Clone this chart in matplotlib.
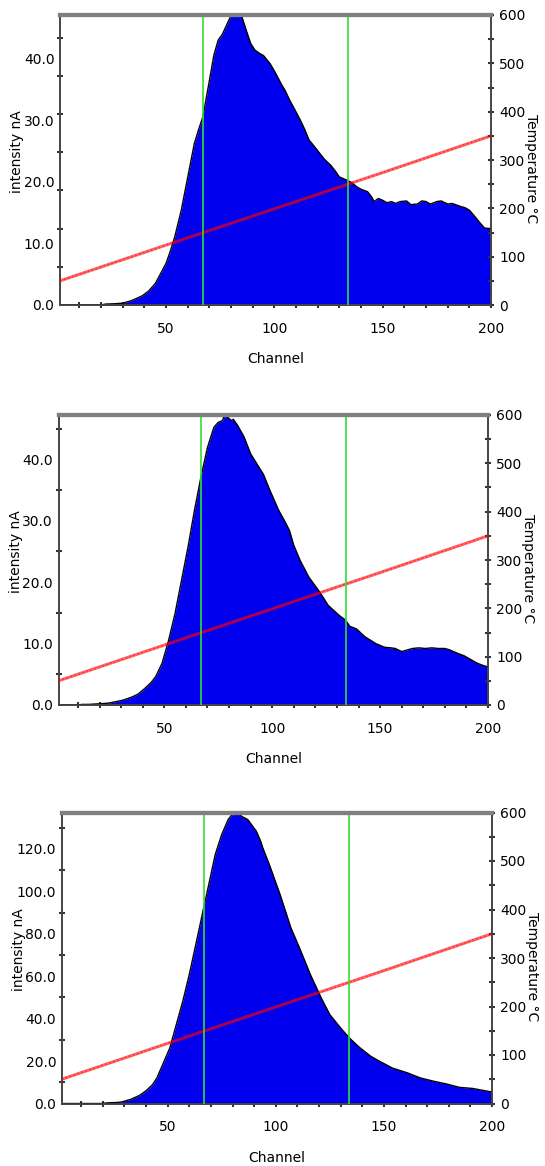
import matplotlib
matplotlib.use("Agg")
import matplotlib.pyplot as plt
from matplotlib.ticker import FixedLocator, FormatStrFormatter
import numpy as np

# values
ch1 = [1, 20, 22, 26, 30, 34, 39, 42, 45, 47, 50, 52, 54, 57, 60, 63, 65, 67, 70, 72,
       74, 76, 79, 80, 82, 84, 85, 87, 89, 91, 93, 95, 98, 100, 103, 105, 107, 109, 112,
       114, 116, 119, 121, 123, 126, 128, 130, 134, 136, 138, 140, 143, 145, 146, 148,
       150, 152, 154, 156, 158, 161, 163, 166, 168, 170, 172, 175, 177, 180, 182, 186,
       188, 190, 192, 195, 197, 200]
int1 = [0, 0, 0.15, 0.2, 0.3, 0.7, 1.5, 2.3, 3.5, 4.8, 6.8, 8.8, 11.1, 15.4, 20.8, 26.2,
        28.5, 30.6, 36.5, 40.5, 43.0, 44.0, 46.3, 47.0, 47.3, 47.0, 46.8, 44.6, 42.5, 41.4,
        40.9, 40.5, 39.2, 38.0, 36.0, 34.8, 33.3, 32.0, 30.0, 28.5, 26.8, 25.5, 24.6, 23.7,
        22.7, 21.8, 20.8, 20.2, 19.8, 19.2, 18.8, 18.4, 17.5, 16.8, 17.3, 17.0, 16.6, 16.8,
        16.5, 16.8, 16.9, 16.3, 16.4, 16.9, 16.8, 16.4, 16.8, 16.9, 16.4, 16.5, 16.0, 15.8,
        15.4, 14.6, 13.3, 12.5, 12.4]

ch2 = [1, 10, 12, 15, 20, 24, 27, 31, 35, 38, 41, 44, 46, 49, 52, 55, 58, 61, 64, 67, 70,
       73, 75, 77, 78, 79, 81, 82, 84, 87, 90, 93, 96, 99, 103, 106, 108, 110, 113, 117,
       122, 126, 131, 134, 136, 139, 143, 148, 152, 155, 157, 160, 163, 165, 168, 171,
       174, 177, 180, 182, 186, 189, 191, 195, 198, 200]
int2 = [0, 0, 0.1, 0.1, 0.2, 0.3, 0.5, 0.8, 1.3, 1.8, 2.7, 3.7, 4.6, 6.8, 10.5, 14.9, 20.3,
        25.7, 31.7, 37.1, 41.9, 45.2, 46.0, 46.3, 47.3, 47.0, 46.3, 46.5, 45.5, 43.6, 40.9,
        39.2, 37.5, 34.9, 31.7, 29.8, 28.4, 26.0, 23.5, 20.8, 18.4, 16.2, 14.6, 13.8, 12.8,
        12.4, 11.1, 10.0, 9.4, 9.3, 9.2, 8.7, 9.0, 9.2, 9.3, 9.2, 9.3, 9.2, 9.2, 9.0, 8.4,
        8.0, 7.6, 6.8, 6.4, 6.2]

ch3 = [1, 20, 22, 27, 29, 33, 37, 40, 43, 45, 47, 51, 54, 57, 60, 63, 66, 69, 72, 75, 78,
       80, 81, 83, 84, 87, 91, 93, 94, 97, 102, 107, 111, 116, 121, 125, 130, 134, 139,
       144, 148, 154, 161, 167, 173, 179, 185, 191, 199, 200]
int3 = [0, 0, 0.3, 0.5, 0.8, 2.0, 3.8, 6.0, 8.9, 12.0, 16.7, 26.2, 37.2, 48.2, 60.8, 74.9,
        89.1, 103.2, 117.4, 126.8, 133.9, 136.5, 137.5, 137.3, 135.5, 133.9, 128.4, 123.7,
        120.5, 112.7, 98.5, 82.8, 73.3, 60.8, 49.8, 41.9, 35.6, 30.9, 26.2, 22.2, 19.9,
        16.7, 14.4, 12.0, 10.5, 9.2, 7.6, 7.1, 5.6, 5.5]

temp_ch = [1, 50, 100, 150, 200]
temp_c = [50, 124, 199, 274, 350]

markers_ch = [67, 134]

panels = [
    dict(ch=ch1, val=int1, ymax=47.1, major=[0, 10, 20, 30, 40], minor_step=6.2,
         rect=[60 / 545, 861 / 1166, 431 / 545, 290 / 1166]),
    dict(ch=ch2, val=int2, ymax=47.2, major=[0, 10, 20, 30, 40], minor_step=5,
         rect=[58.5 / 545, 461 / 1166, 429.5 / 545, 290 / 1166]),
    dict(ch=ch3, val=int3, ymax=137.2, major=[0, 20, 40, 60, 80, 100, 120], minor_step=10,
         rect=[61.7 / 545, 62.5 / 1166, 430.3 / 545, 291 / 1166]),
]

plt.rcParams["font.family"] = "DejaVu Sans"
fig = plt.figure(figsize=(5.45, 11.66), dpi=100)


def style_spines(a):
    for s in ["left", "bottom", "right"]:
        a.spines[s].set_color("#444444")
        a.spines[s].set_linewidth(1.2)
    a.spines["top"].set_color("#808080")
    a.spines["top"].set_linewidth(3)
    a.spines["top"].set_zorder(6)


for p in panels:
    ax = fig.add_axes(p["rect"])
    ax.fill_between(p["ch"], p["val"], color="#0000ee", lw=0, zorder=2)
    ax.plot(p["ch"], p["val"], color="black", lw=1.0, zorder=3)
    ax.set_xlim(1, 200)
    ax.set_ylim(0, p["ymax"])

    ax.xaxis.set_major_locator(FixedLocator([50, 100, 150, 200]))
    ax.xaxis.set_minor_locator(FixedLocator(np.arange(10, 200, 10)))
    ax.yaxis.set_major_locator(FixedLocator(p["major"]))
    ax.yaxis.set_minor_locator(FixedLocator(np.arange(0, p["ymax"], p["minor_step"])))
    ax.yaxis.set_major_formatter(FormatStrFormatter("%.1f"))
    ax.tick_params(which="major", axis="y", length=0, pad=4, labelsize=10)
    ax.tick_params(which="major", axis="x", direction="inout", length=4, width=1.5,
                   color="#333333", pad=10, labelsize=10)
    ax.tick_params(which="minor", direction="inout", length=4, width=1.5, color="#333333")
    style_spines(ax)

    ax.set_xlabel("Channel", fontsize=10)
    ax.xaxis.label.set_va("center")
    ax.xaxis.set_label_coords(0.5, -54 / 290)
    ax.set_ylabel("intensity nA", fontsize=10)
    ax.yaxis.label.set_va("center")
    ax.yaxis.set_label_coords(-0.1, 0.53)

    # temperature ramp on the right axis, drawn above the spectrum
    ax2 = ax.twinx()
    ax2.plot(temp_ch, temp_c, color="red", alpha=0.6, lw=2.2, zorder=4)
    ax2.plot(temp_ch, temp_c, color="red", alpha=0.5, lw=1.2, ls=(0, (1, 1.5)), zorder=4)
    for m in markers_ch:
        ax2.axvline(m, color="#33dd33", lw=1.2, zorder=5)
    ax2.set_xlim(1, 200)
    ax2.set_ylim(0, 600)
    ax2.yaxis.set_major_locator(FixedLocator(range(0, 601, 100)))
    ax2.yaxis.set_minor_locator(FixedLocator(range(50, 600, 100)))
    ax2.tick_params(which="both", direction="inout", length=4, width=1.5, color="#333333",
                    labelsize=10, pad=4)
    style_spines(ax2)
    ax2.set_ylabel("Temperature °C", fontsize=10, rotation=-90)
    ax2.yaxis.label.set_va("center")
    ax2.yaxis.set_label_coords(1.093, 0.47)

fig.savefig("out.png", dpi=100)
